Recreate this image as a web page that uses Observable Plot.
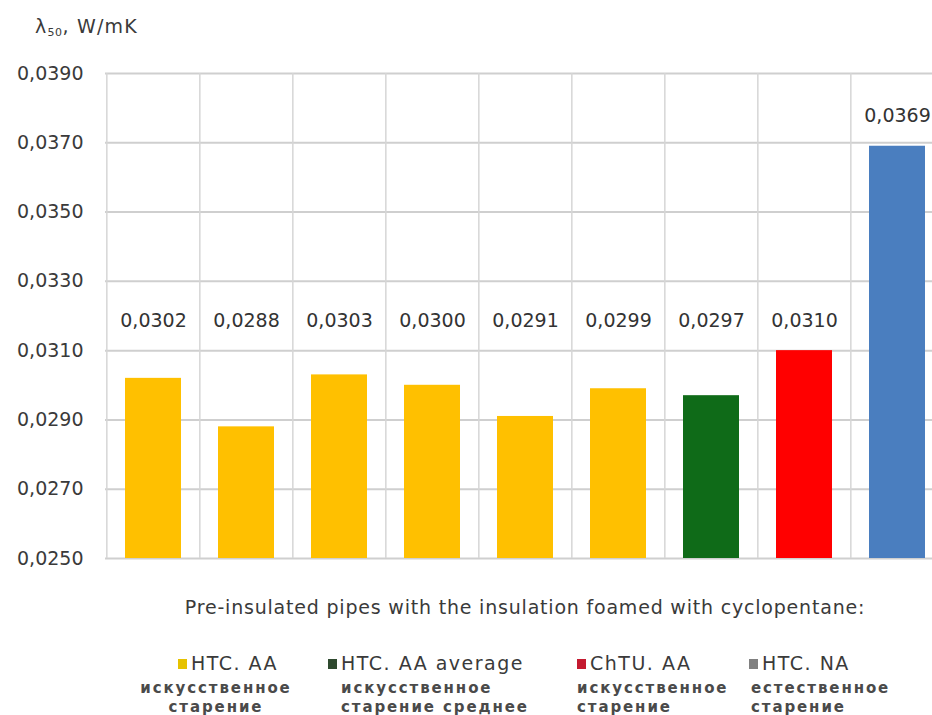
<!DOCTYPE html>
<html>
<head>
<meta charset="utf-8">
<script src="https://cdn.jsdelivr.net/npm/d3@7"></script>
<script src="https://cdn.jsdelivr.net/npm/@observablehq/plot@0.6"></script>
<style>
  html, body { margin: 0; padding: 0; background: #fff; }
  #wrap { position: relative; width: 932px; height: 715px; overflow: hidden; font-family: "DejaVu Sans", sans-serif; color: #3a3a3a; }
  #chart { position: absolute; left: 0; top: 0; width: 945px; }
  #chart svg { max-width: none !important; }
  .abs { position: absolute; white-space: nowrap; }
  #ytitle { left: 35px; top: 15px; font-size: 19px; letter-spacing: 1.2px; }
  #ytitle sub { font-size: 11px; vertical-align: -3px; letter-spacing: 0.5px; }
  #xtitle { left: 0; width: 1050px; top: 596px; text-align: center; font-size: 19px; letter-spacing: 0.8px; }
  .leg { position: absolute; top: 651px; }
  .leg .main { font-size: 19px; line-height: 24px; letter-spacing: 1.5px; }
  .leg .sw { display: inline-block; width: 9px; height: 10px; margin-right: 4px; vertical-align: 1px; }
  .leg .notes { margin-top: 4px; }
  .leg .sub { font-size: 15px; line-height: 19px; letter-spacing: 1.9px; font-weight: bold; color: #4a4a4a; }
</style>
</head>
<body>
<div id="wrap">
  <div id="chart"></div>
  <div id="ytitle" class="abs">λ<sub>50</sub>, W/mK</div>
  <div id="xtitle" class="abs"></div>
  <div id="legend"></div>
</div>
<script>
// Thermal conductivity λ50 of pre-insulated pipe samples
const ids    = ["a1", "a2", "a3", "a4", "a5", "a6", "avg", "chtu", "na"];
const groups = ["HTC. AA", "HTC. AA", "HTC. AA", "HTC. AA", "HTC. AA", "HTC. AA",
                "HTC. AA average", "ChTU. AA", "HTC. NA"];
const values = [0.0302, 0.0288, 0.0303, 0.0300, 0.0291, 0.0299, 0.0297, 0.0310, 0.0369];

const yTicks = [0.0250, 0.0270, 0.0290, 0.0310, 0.0330, 0.0350, 0.0370, 0.0390];

const groupNames  = ["HTC. AA", "HTC. AA average", "ChTU. AA", "HTC. NA"];
const barColors   = ["#ffc000", "#0f6b18", "#ff0000", "#4a7ebf"];
const swatchColors = ["#e6c200", "#2f4a2f", "#c41a30", "#808080"];
const legendNotes = [
  ["искусственное", "старение"],
  ["искусственное", "старение среднее"],
  ["искусственное", "старение"],
  ["естественное", "старение"]
];
const xTitle = "Pre-insulated pipes with the insulation foamed with cyclopentane:";

const data = ids.map((id, i) => ({id, group: groups[i], value: values[i]}));
const fmt = v => v.toFixed(4).replace(".", ",");

const W = 945, H = 575, mL = 105, mR = 0, mT = 73, mB = 17;
const step = (W - mL - mR) / ids.length;
const yMin = yTicks[0], yMax = yTicks[yTicks.length - 1];

const chart = Plot.plot({
  width: W,
  height: H,
  marginLeft: mL,
  marginRight: mR,
  marginTop: mT,
  marginBottom: mB,
  style: {fontFamily: "DejaVu Sans, sans-serif", fontSize: "19px", color: "#3a3a3a", background: "transparent"},
  x: {type: "band", domain: ids, paddingInner: 0.4, paddingOuter: 0.2, axis: null},
  y: {domain: [yMin, yMax], ticks: yTicks, tickFormat: fmt, tickSize: 0, tickPadding: 22, label: null},
  color: {domain: groupNames, range: barColors},
  marks: [
    Plot.ruleY(yTicks, {stroke: "#cfcfcf", strokeWidth: 2}),
    Plot.ruleX(ids, {x: d => d, dx: -step / 2, y1: yMin, y2: yMax, stroke: "#d6d6d6", strokeWidth: 1.5}),
    Plot.barY(data, {x: "id", y1: yMin, y2: "value", fill: "group"}),
    Plot.text(data, {
      x: "id",
      y: d => Math.max(d.value, 0.0310),
      dy: -30,
      text: d => fmt(d.value),
      fontSize: 19,
      fill: "#333"
    })
  ]
});
chart.style.maxWidth = "none";
chart.style.width = W + "px";
chart.style.height = H + "px";
document.getElementById("chart").appendChild(chart);

document.getElementById("xtitle").textContent = xTitle;

// Legend below the plot
const legendLayout = [
  {left: 136, width: 160, align: "center", pad: 24},
  {left: 328, width: 210, align: "left", pad: 0, subPad: 13},
  {left: 577, width: 170, align: "left", pad: 0},
  {left: 749, width: 170, align: "left", pad: 0, subPad: 2}
];
const legend = document.getElementById("legend");
groupNames.forEach((name, i) => {
  const L = legendLayout[i];
  const item = document.createElement("div");
  item.className = "leg";
  item.style.left = L.left + "px";
  item.style.width = L.width + "px";
  item.style.textAlign = L.align;
  const main = document.createElement("div");
  main.className = "main";
  main.style.paddingLeft = L.pad + "px";
  main.innerHTML = `<span class="sw" style="background:${swatchColors[i]}"></span>${name}`;
  item.appendChild(main);
  const notes = document.createElement("div");
  notes.className = "notes";
  legendNotes[i].forEach(t => {
    const s = document.createElement("div");
    s.className = "sub";
    s.style.paddingLeft = (L.subPad || 0) + "px";
    s.textContent = t;
    notes.appendChild(s);
  });
  item.appendChild(notes);
  legend.appendChild(item);
});
</script>
</body>
</html>
